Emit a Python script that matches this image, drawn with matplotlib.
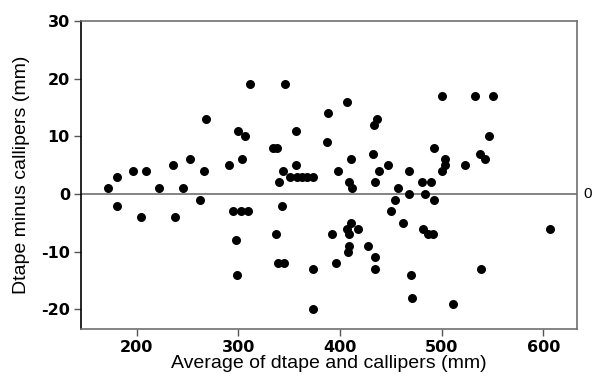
import matplotlib
matplotlib.use("Agg")
import matplotlib.pyplot as plt
import matplotlib.transforms as mtransforms

avg_mm = [172, 181, 180.5, 197, 204, 209, 222.5, 236, 238, 246, 253, 262.5, 266, 268,
          291, 295, 298, 299, 300, 303, 304, 307, 310, 312, 334.5, 338.5, 337, 339.5,
          340.5, 343, 344, 345, 346, 351, 356.5, 356.5, 357.5, 362.5, 367.5, 373.5,
          373.5, 373.5, 387, 388, 392.5, 396, 398, 406.5, 406.5, 408.5, 408.5, 408.5,
          407.5, 410.5, 410.5, 412, 418, 428, 432, 433, 434.5, 434.5, 434.5, 436.5,
          438.5, 447.5, 450.5, 454.5, 457.5, 462, 467.5, 467.5, 469.5, 470.5, 480.5,
          482, 483.5, 486.5, 489.5, 491, 492, 492, 500, 500, 503, 503, 511, 522.5, 533,
          537.5, 538.5, 542.5, 546, 550, 606.5]
diff_mm = [1, 3, -2, 4, -4, 4, 1, 5, -4, 1, 6, -1, 4, 13,
           5, -3, -8, -14, 11, -3, 6, 10, -3, 19, 8, 8, -7, -12,
           2, -2, 4, -12, 19, 3, 11, 5, 3, 3, 3, 3,
           -13, -20, 9, 14, -7, -12, 4, 16, -6, 2, -7, -9,
           -10, 6, -5, 1, -6, -9, 7, 12, 2, -11, -13, 13,
           4, 5, -3, -1, 1, -5, 4, 0, -14, -18, 2,
           -6, 0, -7, 2, -7, 8, -1, 17, 4, 6, 5, -19, 5, 17,
           7, -13, 6, 10, 17, -6]

xticks = [200, 300, 400, 500, 600]
yticks = [-20, -10, 0, 10, 20, 30]

fig = plt.figure(figsize=(5.92, 3.79), dpi=100)
ax = fig.add_axes([81/592, 1-329/379, (577-81)/592, (329-21)/379])

ax.scatter(avg_mm, diff_mm, s=42, color='black', zorder=3, linewidths=0)
ax.axhline(0, color='#707070', lw=1.2, zorder=2)

ax.set_xlim(145.4, 633)
ax.set_ylim(-23.4, 30)
ax.set_xticks(xticks)
ax.set_yticks(yticks)
ax.set_xticklabels([str(t) for t in xticks], fontweight='bold', fontsize=11.5, family='DejaVu Sans')
ax.set_yticklabels([str(t) for t in yticks], fontweight='bold', fontsize=11.5, family='DejaVu Sans')
ax.tick_params(direction='out', length=5, width=1, color='#555555', pad=3)

for side in ['top', 'right', 'bottom']:
    ax.spines[side].set_color('#707070')
    ax.spines[side].set_linewidth(1.2)
ax.spines['left'].set_color('black')
ax.spines['left'].set_linewidth(1.2)

ax.set_xlabel('Average of dtape and callipers (mm)', fontsize=14, family='Liberation Sans')
ax.set_ylabel('Dtape minus callipers (mm)', fontsize=14, family='Liberation Sans')
ax.xaxis.label.set_va('top')
ax.yaxis.label.set_va('center')
ax.xaxis.set_label_coords(0.5, (329 - 355) / 308)
ax.yaxis.set_label_coords((22 - 81) / 496, 0.5)

trans = mtransforms.blended_transform_factory(ax.transAxes, ax.transData)
ax.text(1.012, 0, '0', transform=trans, ha='left', va='center', fontsize=11, family='Liberation Sans')

fig.savefig('out.png', dpi=100)
